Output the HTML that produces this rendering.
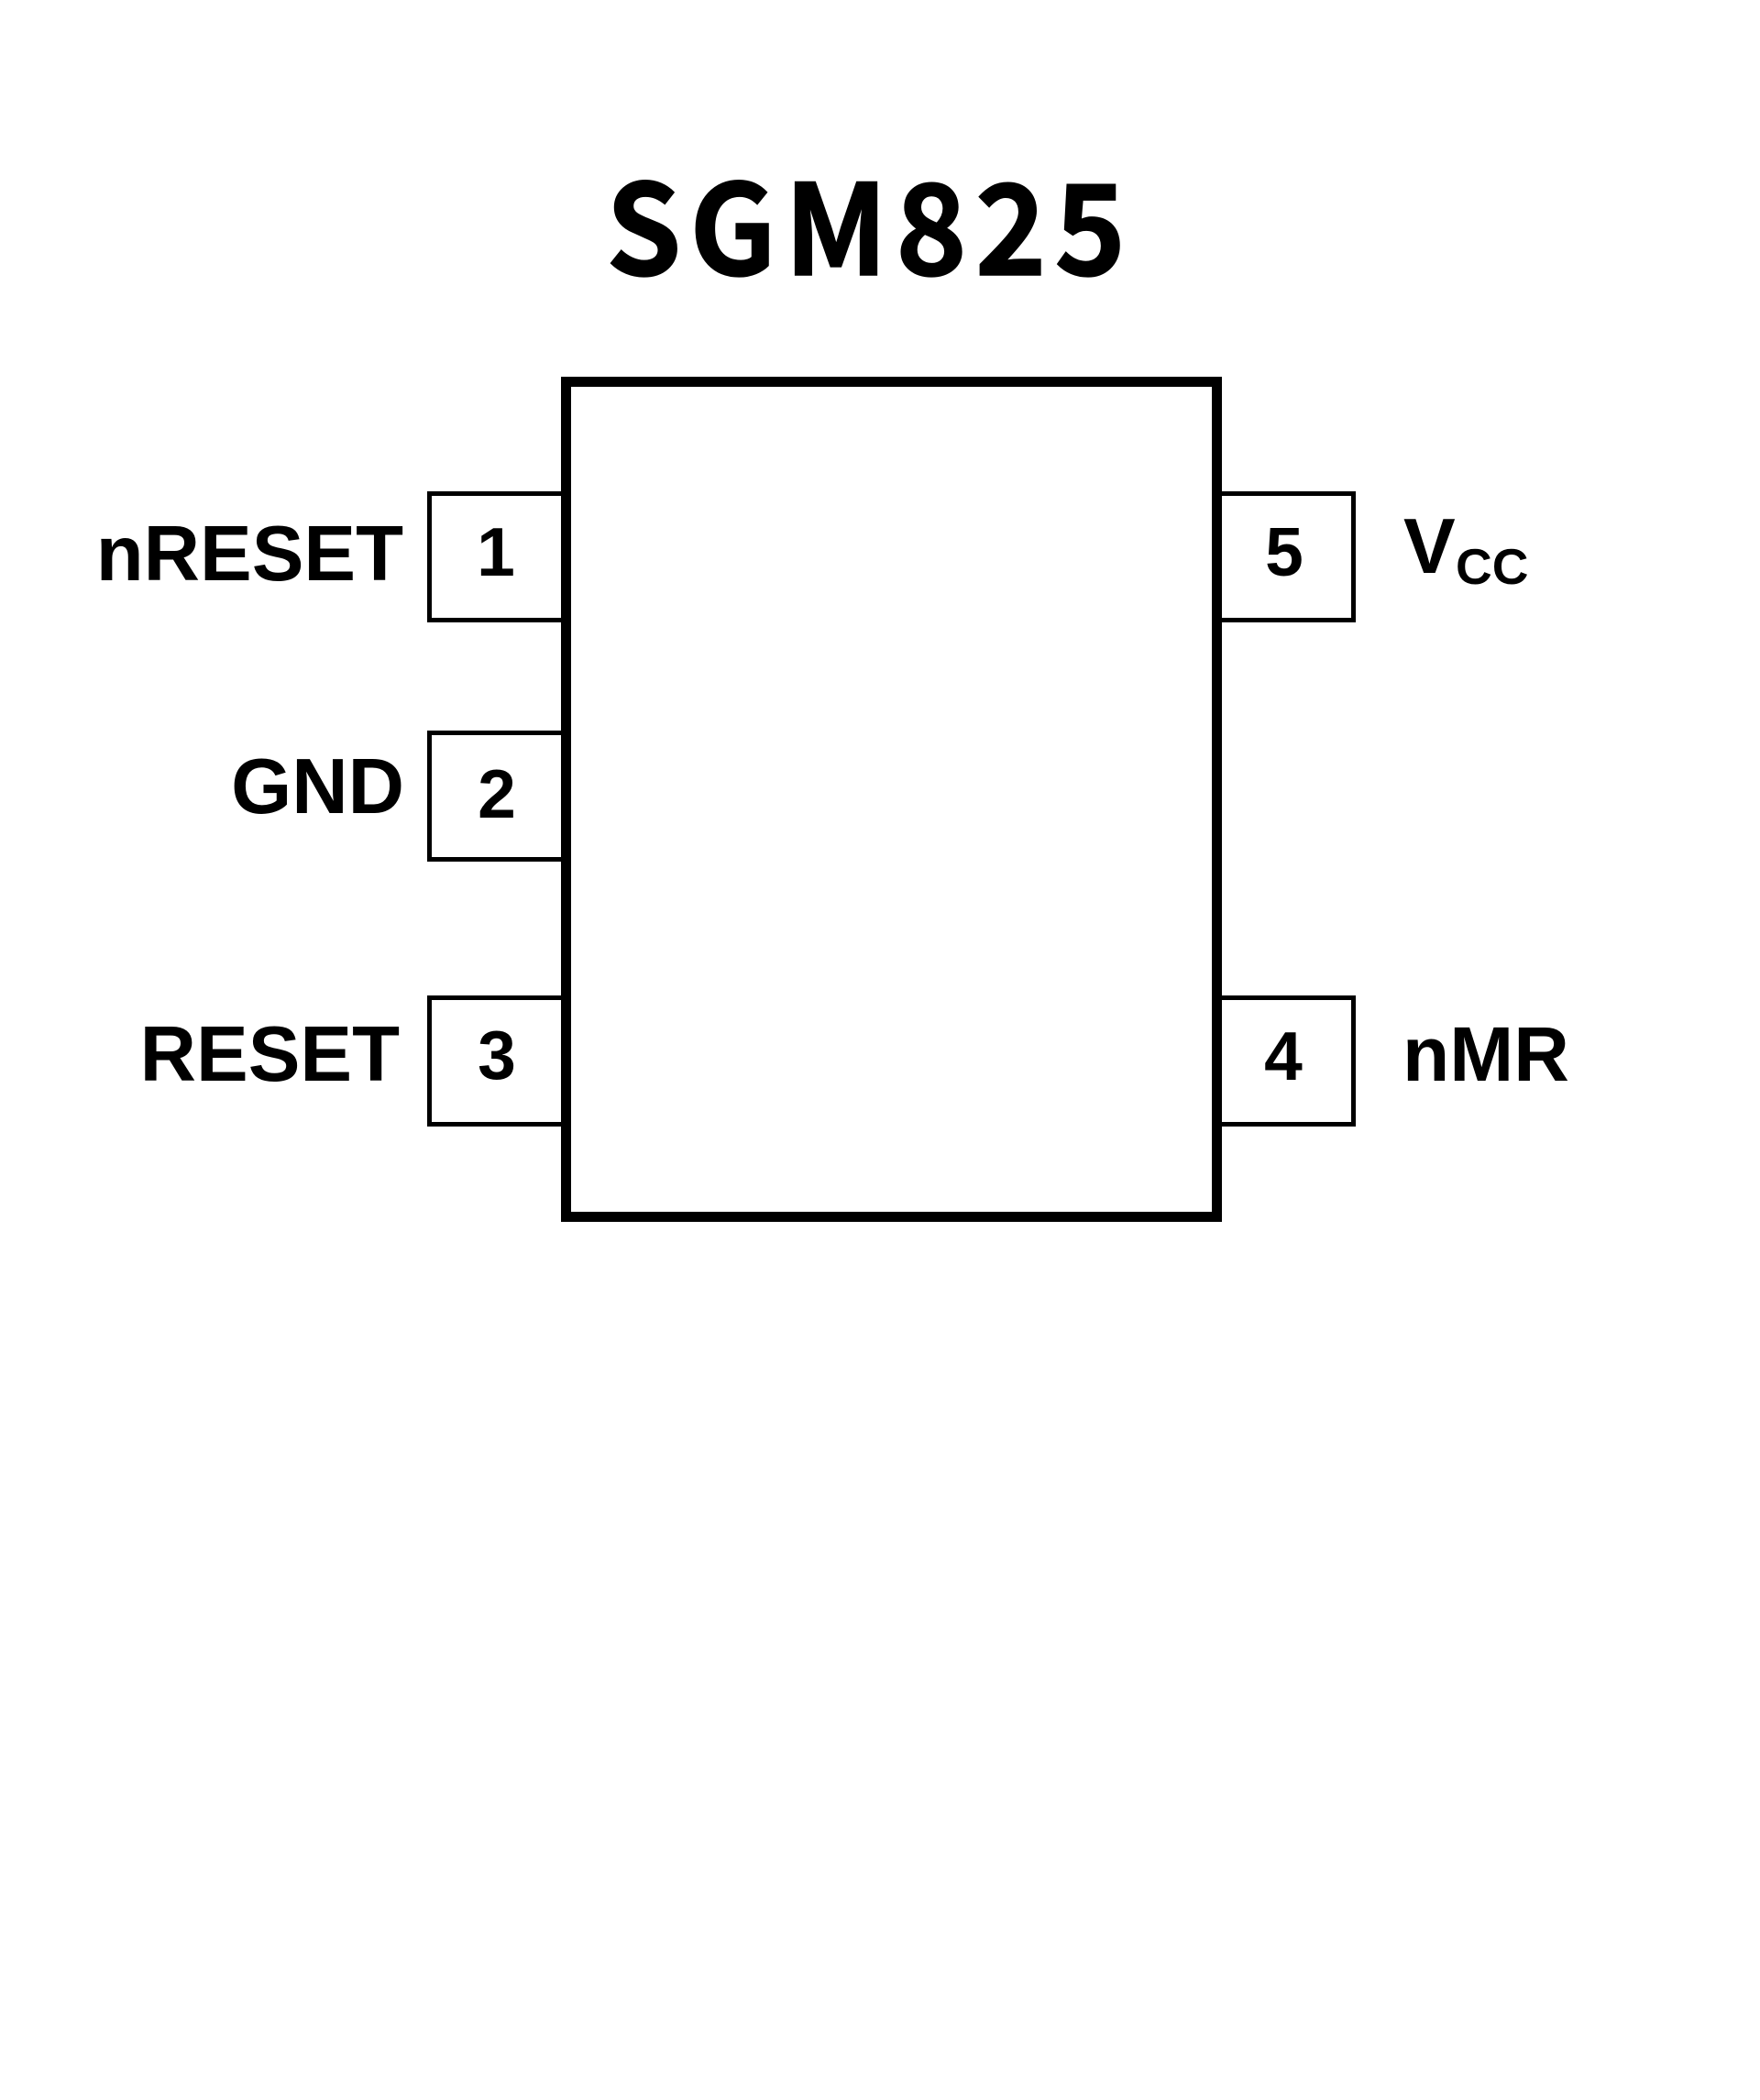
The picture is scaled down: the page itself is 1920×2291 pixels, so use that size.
<!DOCTYPE html>
<html>
<head>
<meta charset="utf-8">
<style>
  html, body { margin: 0; padding: 0; background: #ffffff; }
  body { width: 1920px; height: 2291px; overflow: hidden; }
  svg { display: block; }
</style>
</head>
<body>
<svg width="1920" height="2291" viewBox="0 0 1920 2291" xmlns="http://www.w3.org/2000/svg">
  <rect x="0" y="0" width="1920" height="2291" fill="#ffffff"/>

  <!-- Title -->
  <text x="661" y="300" font-family="'Noto Sans CJK SC', 'Liberation Sans', sans-serif" font-weight="700" font-size="137" fill="#000" stroke="#000" stroke-width="1.5" letter-spacing="9" textLength="576" lengthAdjust="spacingAndGlyphs">SGM825</text>

  <!-- Pin boxes (left) -->
  <g fill="#fff" stroke="#000" stroke-width="5">
    <rect x="468.5" y="538.5" width="146" height="138"/>
    <rect x="468.5" y="799.5" width="146" height="138"/>
    <rect x="468.5" y="1088.5" width="146" height="138"/>
    <!-- right -->
    <rect x="1330" y="538.5" width="146.5" height="138"/>
    <rect x="1330" y="1088.5" width="146.5" height="138"/>
  </g>

  <!-- Main package body -->
  <rect x="617.5" y="416.5" width="710" height="911" fill="#fff" stroke="#000" stroke-width="11"/>

  <!-- Pin numbers -->
  <g font-family="'Liberation Sans', Arial, sans-serif" font-weight="700" font-size="75" fill="#000" text-anchor="middle">
    <text x="541" y="628">1</text>
    <text x="542" y="892">2</text>
    <text x="542" y="1177">3</text>
    <text x="1401" y="628">5</text>
    <text x="1400" y="1178">4</text>
  </g>

  <!-- Left labels -->
  <g font-family="'Liberation Sans', Arial, sans-serif" font-weight="700" font-size="85" fill="#000" text-anchor="end">
    <text x="440" y="633">nRESET</text>
    <text x="441" y="887">GND</text>
    <text x="436" y="1179">RESET</text>
  </g>

  <!-- Right labels -->
  <g font-family="'Liberation Sans', Arial, sans-serif" font-weight="700" fill="#000">
    <text x="1531" y="625" font-size="85">V</text>
    <text x="1588" y="637" font-size="55">CC</text>
    <text x="1530" y="1179" font-size="84">nMR</text>
  </g>
</svg>
</body>
</html>
